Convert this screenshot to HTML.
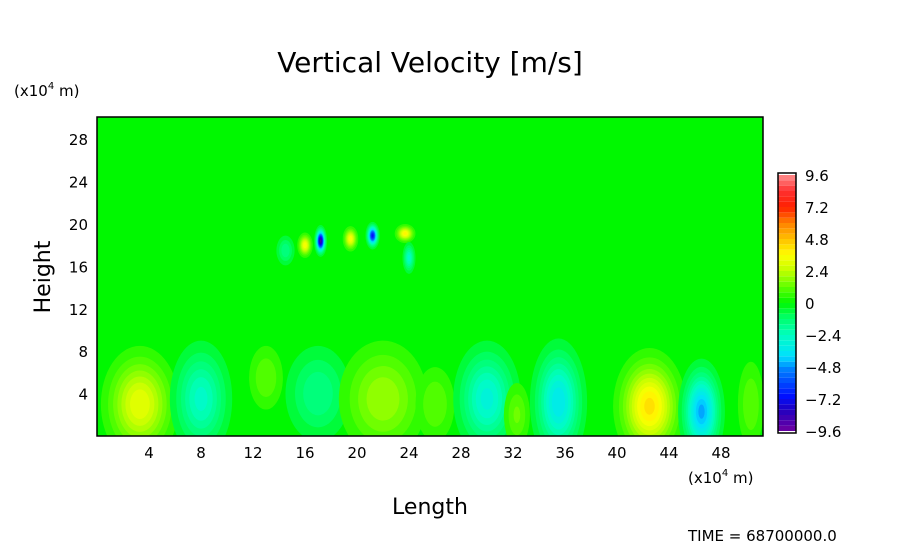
<!DOCTYPE html>
<html><head><meta charset="utf-8"><style>
body{margin:0;background:#fff;}
svg{display:block;font-family:"DejaVu Sans","Liberation Sans",sans-serif;}
</style></head><body>
<svg id="chart" width="904" height="544" viewBox="0 0 904 544">
<text x="430" y="72" font-size="28" text-anchor="middle">Vertical Velocity [m/s]</text>
<text x="14" y="96" font-size="15">(x10<tspan font-size="10" dy="-7">4</tspan><tspan dy="7"> m)</tspan></text>
<text x="688" y="483" font-size="15">(x10<tspan font-size="10" dy="-7">4</tspan><tspan dy="7"> m)</tspan></text>
<text x="430" y="514" font-size="22" text-anchor="middle">Length</text>
<text x="50" y="277" font-size="22" text-anchor="middle" transform="rotate(-90 50 277)">Height</text>
<text x="688" y="541" font-size="15">TIME = 68700000.0</text>
<defs><clipPath id="pc"><rect x="97" y="117" width="666" height="319"/></clipPath></defs>
<rect x="97" y="117" width="666" height="319" fill="#00f800"/>
<g id="field" clip-path="url(#pc)"></g>
<rect x="97" y="117" width="666" height="319" fill="none" stroke="#000" stroke-width="1.5"/>
<g id="axes"></g>
<g id="cbar"></g>
</svg>
<script>
const xTicks=[4,8,12,16,20,24,28,32,36,40,44,48];
const yTicks=[4,8,12,16,20,24,28];
const blobX=[3.3,8,13,17,22,26,30,32.3,35.5,42.5,46.5,50.3,17.2,21.2,16,19.5,23.7,24,14.5];
const blobY=[3,3.5,5.5,4,3.5,3,3.5,2,3.2,2.8,2.3,3,18.4,18.9,18,18.6,19.1,16.8,17.5];
const blobV=[3.2,-2.6,1.2,-1.6,2,1.2,-3,1.3,-3.6,4.2,-4.6,1.2,-8.6,-7,3.6,3.6,3.8,-2.6,-1.6];
const blobRX=[3,2.4,1.3,2.5,3.4,1.5,2.6,1,2.2,2.8,1.8,1,0.5,0.55,0.6,0.6,0.8,0.5,0.7];
const blobRY=[5.5,5.5,3,4.5,5.5,3.5,5.5,3,6,5.5,5,4,1.5,1.3,1.2,1.2,0.9,1.5,1.4];
const cbTicks=[9.6,7.2,4.8,2.4,0,-2.4,-4.8,-7.2,-9.6];
const cbLabels=["9.6","7.2","4.8","2.4","0","\u22122.4","\u22124.8","\u22127.2","\u22129.6"];
const sx=v=>97+v*13, sy=v=>436-v*10.6;
const stops=[[-9.6,[112,0,160]],[-8,[32,0,192]],[-7,[0,16,255]],[-5,[0,128,255]],[-4,[0,224,255]],[-2.4,[0,255,192]],[-1,[0,255,96]],[0,[0,248,0]],[1.2,[96,255,0]],[2.4,[192,255,0]],[3.6,[255,255,0]],[4.8,[255,192,0]],[6,[255,128,0]],[7.2,[255,32,0]],[8.4,[255,48,48]],[9.6,[255,144,144]]];
function cmap(v){for(let i=0;i<stops.length-1;i++){const a=stops[i],b=stops[i+1];if(v<=b[0]){const t=Math.max(0,(v-a[0])/(b[0]-a[0]));const c=a[1].map((x,k)=>Math.round(x+(b[1][k]-x)*t));return `rgb(${c})`;}}return 'rgb(255,144,144)';}
const NS="http://www.w3.org/2000/svg";
function mk(t,at,p){const e=document.createElementNS(NS,t);for(const k in at)e.setAttribute(k,at[k]);p.appendChild(e);return e;}
const field=document.getElementById('field');
blobV.forEach((V,i)=>{const g=mk('g',{},field);


const s=Math.sign(V),A=Math.abs(V);
const norm=Math.sqrt(Math.log(A/0.4))||1;
for(let L=0.4;L<A;L+=0.4){const r=Math.sqrt(Math.log(A/L))/norm;
mk('ellipse',{cx:sx(blobX[i]),cy:sy(blobY[i]),rx:r*blobRX[i]*13,ry:r*blobRY[i]*10.6,fill:cmap(s*(L+0.2))},g);}});
const ax=document.getElementById('axes');
xTicks.forEach(v=>{const t=mk('text',{x:sx(v),y:458,'font-size':15,'text-anchor':'middle'},ax);t.textContent=v;

});
yTicks.forEach(v=>{const t=mk('text',{x:88,y:sy(v)+6,'font-size':15,'text-anchor':'end'},ax);t.textContent=v;

});
const cb=document.getElementById('cbar');
const cy=v=>303-v*(128/9.6);
for(let L=-9.6;L<9.59;L+=0.4){const r=mk('rect',{x:778,y:cy(L+0.4),width:18,height:(0.4*128/9.6),fill:cmap(L+0.2)},cb);

}
const fr=mk('rect',{x:778,y:cy(9.6)-2,width:18,height:cy(-9.6)-cy(9.6)+4,fill:'none',stroke:'#000','stroke-width':1.5},cb);


cbTicks.forEach((v,i)=>{const t=mk('text',{x:805,y:cy(v)+6,'font-size':15},cb);t.textContent=cbLabels[i];

});
</script>
</body></html>
